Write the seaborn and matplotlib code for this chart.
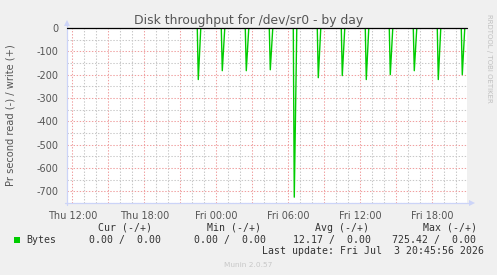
import numpy as np
import pandas as pd
import matplotlib
matplotlib.use("Agg")
import matplotlib.pyplot as plt
from matplotlib.patches import Polygon
import seaborn as sns

# ---------------- data ----------------
# hours relative to Fri 00:00
spike_hours = [-1.5, 0.5, 2.5, 4.5, 6.5, 8.5, 10.5, 12.5, 14.5, 16.5, 18.5, 20.5]
spike_depth = [221, 183, 183, 179, 725, 213, 204, 221, 200, 183, 221, 200]
x_tick_hours = [-12, -6, 0, 6, 12, 18]
x_tick_labels = ["Thu 12:00", "Thu 18:00", "Fri 00:00", "Fri 06:00", "Fri 12:00", "Fri 18:00"]
y_tick_values = [0, -100, -200, -300, -400, -500, -600, -700]
legend_headers = ["Cur (-/+)", "Min (-/+)", "Avg (-/+)", "Max (-/+)"]
legend_values = ["0.00 /  0.00", "0.00 /  0.00", "12.17 /  0.00", "725.42 /  0.00"]
series_name = "Bytes"
last_update = "Last update: Fri Jul  3 20:45:56 2026"

W, H = 497, 275
PX_H = 5 / 60.0            # hours per pixel (5 min steps)
XMIN = -12.44
XMAX = XMIN + 400 * PX_H
YMIN, YMAX = -750, 0

xs, ys = [XMIN], [0]
for t, v in zip(spike_hours, spike_depth):
    xs += [t - PX_H, t, t + 2.5 * PX_H]
    ys += [0, -v, 0]
xs.append(XMAX)
ys.append(0)
df = pd.DataFrame({"hour": xs, "bytes": ys})

# ---------------- figure ----------------
sns.set_style("white")
plt.rcParams["font.family"] = ["DejaVu Sans"]
plt.rcParams["lines.scale_dashes"] = False

fig = plt.figure(figsize=(W / 100, H / 100), dpi=100, facecolor="#F0F0F0")
ax = fig.add_axes([67 / W, 1 - 203 / H, 400 / W, 175 / H])
ax.set_facecolor("white")

def fx(x):
    return x / W

def fy(y):
    return 1 - y / H

GRID_GRAY = "#C8C8C8"
GRID_RED = "#F0A0A0"
AXIS_COL = "#CCD4F8"

# data line
sns.lineplot(data=df, x="hour", y="bytes", ax=ax, color="#00CC00", lw=1.0,
             estimator=None, sort=False, zorder=3, legend=False)
ax.set_xlabel("")
ax.set_ylabel("")

# grid / ticks
ax.set_xticks(np.arange(-12, 21, 3))
ax.set_xticks(np.arange(-12, 21, 1), minor=True)
ax.set_yticks(y_tick_values)
ax.set_yticks(np.arange(-750, 1, 50), minor=True)
ax.set_xlim(XMIN, XMAX)
ax.set_ylim(YMIN, YMAX)
ax.grid(which="minor", color=GRID_GRAY, lw=0.75, ls=(0, (1.0, 1.2)), zorder=0)
ax.grid(which="major", color=GRID_RED, lw=0.75, ls=(0, (1.0, 1.2)), zorder=0.5)
ax.set_axisbelow(True)

for s in ax.spines.values():
    s.set_visible(False)

lab = {h: l for h, l in zip(x_tick_hours, x_tick_labels)}
ax.set_xticklabels([lab.get(int(h), "") for h in np.arange(-12, 21, 3)])
ax.set_yticklabels([str(v) for v in y_tick_values])
ax.tick_params(axis="both", which="major", color="#E88080", length=2.2, width=0.7,
               labelsize=7, labelcolor="#555555", direction="out")
ax.tick_params(axis="x", which="major", pad=3.5)
ax.tick_params(axis="y", which="major", pad=4)
ax.tick_params(axis="both", which="minor", color="#C8C8C8", length=1.5, width=0.6,
               direction="out")

# zero line
ax.plot([0, 1], [1, 1], transform=ax.transAxes, color="black", lw=0.9,
        clip_on=False, zorder=4)

# axis lines with arrows (axes-fraction coords)
ax.plot([0, 0], [-2 / 175, 1 + 2 / 175], transform=ax.transAxes, color=AXIS_COL,
        lw=0.9, clip_on=False, zorder=2)
ax.plot([-2 / 400, 1 + 2 / 400], [0, 0], transform=ax.transAxes, color=AXIS_COL,
        lw=0.9, clip_on=False, zorder=2)
ax.add_patch(Polygon([[-3 / 400, 1 + 2 / 175], [3 / 400, 1 + 2 / 175], [0, 1 + 8 / 175]],
                     closed=True, transform=ax.transAxes, facecolor=AXIS_COL,
                     edgecolor="none", clip_on=False, zorder=2))
ax.add_patch(Polygon([[1 + 2 / 400, -3 / 175], [1 + 2 / 400, 3 / 175], [1 + 8 / 400, 0]],
                     closed=True, transform=ax.transAxes, facecolor=AXIS_COL,
                     edgecolor="none", clip_on=False, zorder=2))

# title and labels
fig.text(fx(249), fy(24), "Disk throughput for /dev/sr0 - by day", ha="center",
         va="baseline", fontsize=8.9, color="#555555")
fig.text(fx(11), fy(115.5), "Pr second read (-) / write (+)", rotation=90,
         ha="center", va="center", fontsize=7.1, color="#555555")
fig.text(fx(489), fy(14), "RRDTOOL / TOBI OETIKER", rotation=270, ha="center",
         va="top", fontsize=5.0, color="#C0C0C0")

# legend block (monospace)
mono = "DejaVu Sans Mono"
hdr_x = [98.3, 206.7, 315, 422.7]
val_x = [89, 194.3, 293.3, 392.3]
for x, t in zip(hdr_x, legend_headers):
    fig.text(fx(x), fy(230.7), t, family=mono, fontsize=7.1, color="#333333",
             ha="left", va="baseline")
fig.patches.append(plt.Rectangle((fx(14), fy(242.5)), 5.5 / W, 5.5 / H,
                                 transform=fig.transFigure, facecolor="#00CC00",
                                 edgecolor="none"))
fig.text(fx(26), fy(242.7), series_name, family=mono, fontsize=7.1, color="#333333",
         ha="left", va="baseline")
for x, t in zip(val_x, legend_values):
    fig.text(fx(x), fy(242.7), t, family=mono, fontsize=7.1, color="#333333",
             ha="left", va="baseline")
fig.text(fx(261.7), fy(254.3), last_update, family=mono, fontsize=7.1,
         color="#333333", ha="left", va="baseline")
fig.text(fx(248), fy(266.7), "Munin 2.0.57", fontsize=5.3, color="#C8C8C8",
         ha="center", va="baseline")

fig.savefig("out.png", dpi=100, facecolor=fig.get_facecolor())
